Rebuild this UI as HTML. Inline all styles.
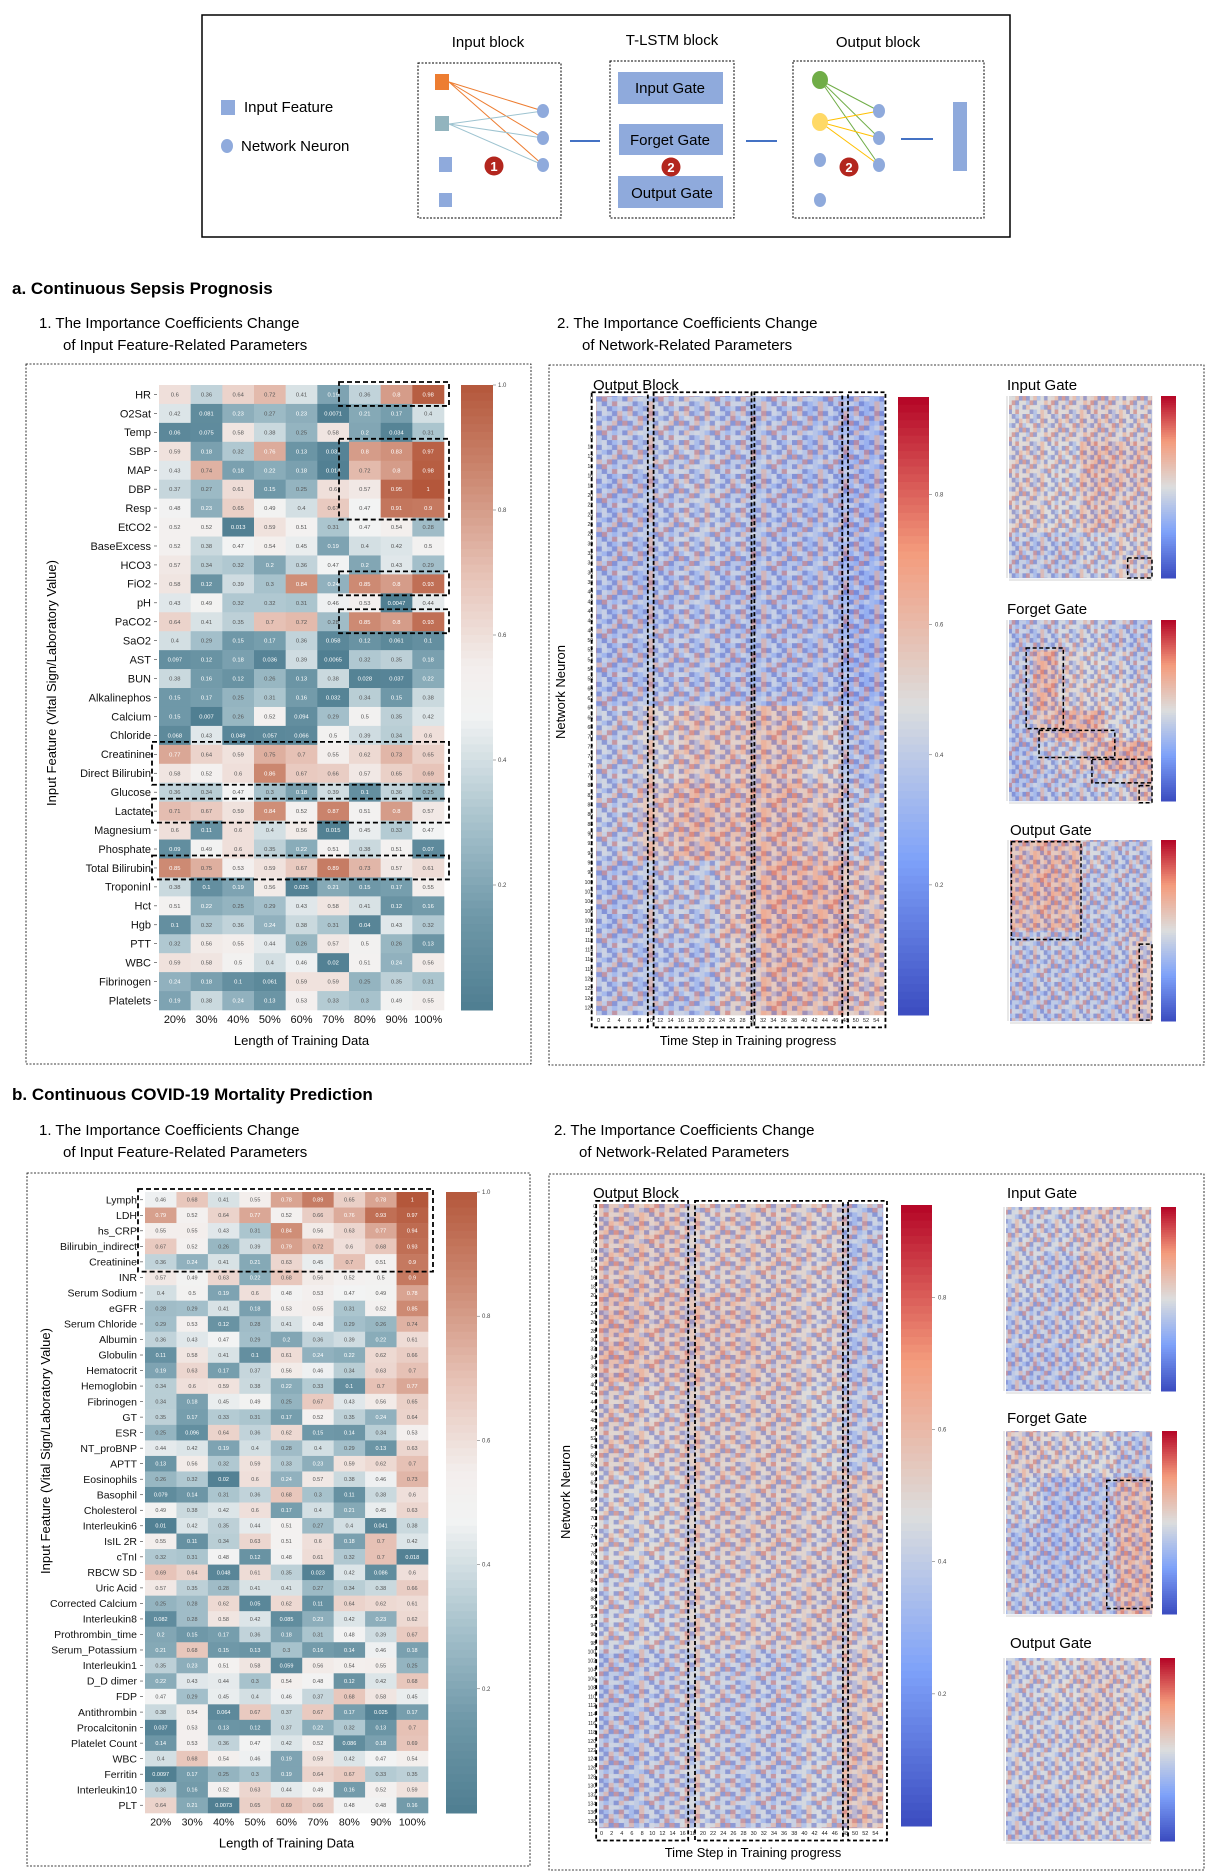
<!DOCTYPE html>
<html><head><meta charset="utf-8"><style>
html,body{margin:0;padding:0;background:#fff;}
svg{display:block;font-family:"Liberation Sans",sans-serif;}
</style></head><body>
<svg id="fig" width="1212" height="1874" viewBox="0 0 1212 1874" xmlns="http://www.w3.org/2000/svg">
<defs id="defs"></defs>
<g>
<rect x="202" y="15" width="808" height="222" fill="#fff" stroke="#000" stroke-width="1.5"/>
<rect x="221" y="100" width="14" height="15" fill="#8faadc"/>
<text x="244" y="112" font-size="15">Input Feature</text>
<ellipse cx="227" cy="146" rx="6" ry="7" fill="#8faadc"/>
<text x="241" y="151" font-size="15">Network Neuron</text>
<text x="488" y="47" font-size="15" text-anchor="middle">Input block</text>
<rect x="418" y="63" width="143" height="155" fill="none" stroke="#000" stroke-dasharray="2,1.5" stroke-width="1"/>
<g stroke-width="1">
<line x1="449" y1="82" x2="543" y2="111" stroke="#ed7d31"/><line x1="449" y1="82" x2="543" y2="138" stroke="#ed7d31"/><line x1="449" y1="82" x2="543" y2="165" stroke="#ed7d31"/>
<line x1="449" y1="124" x2="543" y2="111" stroke="#9dc3d0"/><line x1="449" y1="124" x2="543" y2="138" stroke="#9dc3d0"/><line x1="449" y1="124" x2="543" y2="165" stroke="#9dc3d0"/>
</g>
<rect x="435" y="74" width="14" height="16" fill="#ed7d31"/>
<rect x="435" y="116" width="14" height="15" fill="#92b4be"/>
<rect x="439" y="157" width="13" height="15" fill="#8faadc"/>
<rect x="439" y="193" width="13" height="14" fill="#8faadc"/>
<ellipse cx="543" cy="111" rx="6" ry="7" fill="#8faadc"/><ellipse cx="543" cy="138" rx="6" ry="7" fill="#8faadc"/><ellipse cx="543" cy="165" rx="6" ry="7" fill="#8faadc"/>
<circle cx="494" cy="166" r="9.5" fill="#b3261e"/><text x="494" y="171" font-size="13" fill="#fff" text-anchor="middle" font-weight="bold">1</text>
<line x1="570" y1="141" x2="600" y2="141" stroke="#4472c4" stroke-width="2"/>
<text x="672" y="45" font-size="15" text-anchor="middle">T-LSTM block</text>
<rect x="610" y="61" width="124" height="157" fill="none" stroke="#000" stroke-dasharray="2,1.5" stroke-width="1"/>
<rect x="618" y="72" width="105" height="32" fill="#8faadc"/><text x="670" y="93" font-size="15" text-anchor="middle">Input Gate</text>
<rect x="619" y="124" width="104" height="31" fill="#8faadc"/><text x="670" y="145" font-size="15" text-anchor="middle">Forget Gate</text>
<rect x="618" y="176" width="105" height="32" fill="#8faadc"/><text x="672" y="198" font-size="15" text-anchor="middle">Output Gate</text>
<circle cx="671" cy="167" r="9.5" fill="#b3261e"/><text x="671" y="172" font-size="13" fill="#fff" text-anchor="middle" font-weight="bold">2</text>
<line x1="746" y1="141" x2="777" y2="141" stroke="#4472c4" stroke-width="2"/>
<text x="878" y="47" font-size="15" text-anchor="middle">Output block</text>
<rect x="793" y="61" width="191" height="157" fill="none" stroke="#000" stroke-dasharray="2,1.5" stroke-width="1"/>
<g stroke-width="1">
<line x1="820" y1="80" x2="879" y2="111" stroke="#70ad47"/><line x1="820" y1="80" x2="879" y2="138" stroke="#70ad47"/><line x1="820" y1="80" x2="879" y2="165" stroke="#70ad47"/>
<line x1="820" y1="122" x2="879" y2="111" stroke="#ffc000"/><line x1="820" y1="122" x2="879" y2="138" stroke="#ffc000"/><line x1="820" y1="122" x2="879" y2="165" stroke="#ffc000"/>
</g>
<ellipse cx="820" cy="80" rx="8" ry="9" fill="#70ad47"/>
<ellipse cx="820" cy="122" rx="8" ry="9" fill="#ffd966"/>
<ellipse cx="820" cy="160" rx="6" ry="7" fill="#8faadc"/>
<ellipse cx="820" cy="200" rx="6" ry="7" fill="#8faadc"/>
<ellipse cx="879" cy="111" rx="6" ry="7" fill="#8faadc"/><ellipse cx="879" cy="138" rx="6" ry="7" fill="#8faadc"/><ellipse cx="879" cy="165" rx="6" ry="7" fill="#8faadc"/>
<circle cx="849" cy="167" r="9.5" fill="#b3261e"/><text x="849" y="172" font-size="13" fill="#fff" text-anchor="middle" font-weight="bold">2</text>
<line x1="901" y1="139" x2="933" y2="139" stroke="#4472c4" stroke-width="2"/>
<rect x="953" y="102" width="14" height="69" fill="#8faadc"/>
</g>
<text x="12" y="294" font-size="17" font-weight="bold">a. Continuous Sepsis Prognosis</text>
<text x="39" y="328" font-size="15">1. The Importance Coefficients Change</text>
<text x="63" y="350" font-size="15">of Input Feature-Related Parameters</text>
<text x="557" y="328" font-size="15">2. The Importance Coefficients Change</text>
<text x="582" y="350" font-size="15">of Network-Related Parameters</text>
<text x="12" y="1100" font-size="17" font-weight="bold">b. Continuous COVID-19 Mortality Prediction</text>
<text x="39" y="1135" font-size="15">1. The Importance Coefficients Change</text>
<text x="63" y="1157" font-size="15">of Input Feature-Related Parameters</text>
<text x="554" y="1135" font-size="15">2. The Importance Coefficients Change</text>
<text x="579" y="1157" font-size="15">of Network-Related Parameters</text>
<rect x="26" y="364" width="505" height="700" fill="none" stroke="#000" stroke-dasharray="2,1.5" stroke-width="0.8"/>
<rect x="549" y="365" width="655" height="700" fill="none" stroke="#000" stroke-dasharray="2,1.5" stroke-width="0.8"/>
<rect x="27" y="1173" width="503" height="693" fill="none" stroke="#000" stroke-dasharray="2,1.5" stroke-width="0.8"/>
<rect x="549" y="1174" width="655" height="696" fill="none" stroke="#000" stroke-dasharray="2,1.5" stroke-width="0.8"/>
<g id="charts"></g>
</svg>
<script>
const pctLabels = ["20%","30%","40%","50%","60%","70%","80%","90%","100%"];
const sepsisFeatures = ["HR","O2Sat","Temp","SBP","MAP","DBP","Resp","EtCO2","BaseExcess","HCO3","FiO2","pH","PaCO2","SaO2","AST","BUN","Alkalinephos","Calcium","Chloride","Creatinine","Direct Bilirubin","Glucose","Lactate","Magnesium","Phosphate","Total Bilirubin","TroponinI","Hct","Hgb","PTT","WBC","Fibrinogen","Platelets"];
const sepsisValues = [
[0.6,0.36,0.64,0.72,0.41,0.19,0.36,0.8,0.98],
[0.42,0.081,0.23,0.27,0.23,0.0071,0.21,0.17,0.4],
[0.06,0.075,0.58,0.38,0.25,0.58,0.2,0.034,0.31],
[0.59,0.18,0.32,0.76,0.13,0.031,0.8,0.83,0.97],
[0.43,0.74,0.18,0.22,0.18,0.014,0.72,0.8,0.98],
[0.37,0.27,0.61,0.15,0.25,0.6,0.57,0.95,1],
[0.48,0.23,0.65,0.49,0.4,0.67,0.47,0.91,0.9],
[0.52,0.52,0.013,0.59,0.51,0.31,0.47,0.54,0.28],
[0.52,0.38,0.47,0.54,0.45,0.19,0.4,0.42,0.5],
[0.57,0.34,0.32,0.2,0.36,0.47,0.2,0.43,0.29],
[0.58,0.12,0.39,0.3,0.84,0.24,0.85,0.8,0.93],
[0.43,0.49,0.32,0.32,0.31,0.46,0.53,0.0047,0.44],
[0.64,0.41,0.35,0.7,0.72,0.28,0.85,0.8,0.93],
[0.4,0.29,0.15,0.17,0.36,0.058,0.12,0.061,0.1],
[0.097,0.12,0.18,0.036,0.39,0.0065,0.32,0.35,0.18],
[0.38,0.16,0.12,0.26,0.13,0.38,0.028,0.037,0.22],
[0.15,0.17,0.25,0.31,0.16,0.032,0.34,0.15,0.38],
[0.15,0.007,0.26,0.52,0.094,0.29,0.5,0.35,0.42],
[0.068,0.43,0.049,0.057,0.066,0.5,0.39,0.34,0.6],
[0.77,0.64,0.59,0.75,0.7,0.55,0.62,0.73,0.65],
[0.58,0.52,0.6,0.86,0.67,0.66,0.57,0.65,0.69],
[0.36,0.34,0.47,0.3,0.18,0.39,0.1,0.36,0.25],
[0.71,0.67,0.59,0.84,0.52,0.87,0.51,0.8,0.57],
[0.6,0.11,0.6,0.4,0.56,0.015,0.45,0.33,0.47],
[0.09,0.49,0.6,0.35,0.22,0.51,0.38,0.51,0.07],
[0.85,0.75,0.53,0.59,0.67,0.89,0.73,0.57,0.61],
[0.38,0.1,0.19,0.56,0.025,0.21,0.15,0.17,0.55],
[0.51,0.22,0.25,0.29,0.43,0.58,0.41,0.12,0.16],
[0.1,0.32,0.36,0.24,0.38,0.31,0.04,0.43,0.32],
[0.32,0.56,0.55,0.44,0.26,0.57,0.5,0.26,0.13],
[0.59,0.58,0.5,0.4,0.46,0.02,0.51,0.24,0.56],
[0.24,0.18,0.1,0.061,0.59,0.59,0.25,0.35,0.31],
[0.19,0.38,0.24,0.13,0.53,0.33,0.3,0.49,0.55]];
const sepsisHighlights = [[0,0,6],[3,6,6],[10,10,6],[12,12,6],[19,20,0],[22,22,0],[25,25,0]];
const covidFeatures = ["Lymph","LDH","hs_CRP","Bilirubin_indirect","Creatinine","INR","Serum Sodium","eGFR","Serum Chloride","Albumin","Globulin","Hematocrit","Hemoglobin","Fibrinogen","GT","ESR","NT_proBNP","APTT","Eosinophils","Basophil","Cholesterol","Interleukin6","IsIL 2R","cTnI","RBCW SD","Uric Acid","Corrected Calcium","Interleukin8","Prothrombin_time","Serum_Potassium","Interleukin1","D_D dimer","FDP","Antithrombin","Procalcitonin","Platelet Count","WBC","Ferritin","Interleukin10","PLT"];
const covidValues = [
[0.46,0.68,0.41,0.55,0.78,0.89,0.65,0.78,1],
[0.79,0.52,0.64,0.77,0.52,0.66,0.76,0.93,0.97],
[0.55,0.55,0.43,0.31,0.84,0.56,0.63,0.77,0.94],
[0.67,0.52,0.26,0.39,0.79,0.72,0.6,0.68,0.93],
[0.36,0.24,0.41,0.21,0.63,0.45,0.7,0.51,0.9],
[0.57,0.49,0.63,0.22,0.68,0.56,0.52,0.5,0.9],
[0.4,0.5,0.19,0.6,0.48,0.53,0.47,0.49,0.78],
[0.28,0.29,0.41,0.18,0.53,0.55,0.31,0.52,0.85],
[0.29,0.53,0.12,0.28,0.41,0.48,0.29,0.26,0.74],
[0.36,0.43,0.47,0.29,0.2,0.36,0.39,0.22,0.61],
[0.11,0.58,0.41,0.1,0.61,0.24,0.22,0.62,0.66],
[0.19,0.63,0.17,0.37,0.56,0.46,0.34,0.63,0.7],
[0.34,0.6,0.59,0.38,0.22,0.33,0.1,0.7,0.77],
[0.34,0.18,0.45,0.49,0.25,0.67,0.43,0.56,0.65],
[0.35,0.17,0.33,0.31,0.17,0.52,0.35,0.24,0.64],
[0.25,0.096,0.64,0.36,0.62,0.15,0.14,0.34,0.53],
[0.44,0.42,0.19,0.4,0.28,0.4,0.29,0.13,0.63],
[0.13,0.56,0.32,0.59,0.33,0.23,0.59,0.62,0.7],
[0.26,0.32,0.02,0.6,0.24,0.57,0.38,0.46,0.73],
[0.079,0.14,0.31,0.36,0.68,0.3,0.11,0.38,0.6],
[0.49,0.38,0.42,0.6,0.17,0.4,0.21,0.45,0.63],
[0.01,0.42,0.35,0.44,0.51,0.27,0.4,0.041,0.38],
[0.55,0.11,0.34,0.63,0.51,0.6,0.18,0.7,0.42],
[0.32,0.31,0.48,0.12,0.48,0.61,0.32,0.7,0.018],
[0.69,0.64,0.048,0.61,0.35,0.023,0.42,0.086,0.6],
[0.57,0.35,0.28,0.41,0.41,0.27,0.34,0.38,0.66],
[0.25,0.28,0.62,0.05,0.62,0.11,0.64,0.62,0.61],
[0.082,0.28,0.58,0.42,0.085,0.23,0.42,0.23,0.62],
[0.2,0.15,0.17,0.36,0.18,0.31,0.48,0.39,0.67],
[0.21,0.68,0.15,0.13,0.3,0.16,0.14,0.46,0.18],
[0.35,0.23,0.51,0.58,0.059,0.56,0.54,0.55,0.25],
[0.22,0.43,0.44,0.3,0.54,0.48,0.12,0.42,0.68],
[0.47,0.29,0.45,0.4,0.46,0.37,0.68,0.58,0.45],
[0.38,0.54,0.064,0.67,0.37,0.67,0.17,0.025,0.17],
[0.037,0.53,0.13,0.12,0.37,0.22,0.32,0.13,0.7],
[0.14,0.53,0.36,0.47,0.42,0.52,0.086,0.18,0.69],
[0.4,0.68,0.54,0.46,0.19,0.59,0.42,0.47,0.54],
[0.0097,0.17,0.25,0.3,0.19,0.64,0.67,0.33,0.35],
[0.36,0.16,0.52,0.63,0.44,0.49,0.16,0.52,0.59],
[0.64,0.21,0.0073,0.65,0.69,0.66,0.48,0.48,0.16]];
const covidHighlights = [[0,4,0]];
const featureTicks = [1.0,0.8,0.6,0.4,0.2];
const netTicks = [0.8,0.6,0.4,0.2];
const sepsisOutputBlock = [
[0.40,0.42,0.42,0.40,0.40,0.38,0.35],
[0.38,0.40,0.42,0.40,0.38,0.38,0.35],
[0.38,0.38,0.40,0.38,0.38,0.38,0.33],
[0.38,0.40,0.40,0.38,0.38,0.38,0.33],
[0.42,0.50,0.55,0.55,0.58,0.50,0.38],
[0.42,0.55,0.60,0.58,0.60,0.55,0.42],
[0.38,0.42,0.42,0.55,0.62,0.62,0.55],
[0.40,0.40,0.40,0.52,0.60,0.58,0.55]];
const sepsisInputGate = [[0.48,0.50,0.52,0.50],[0.50,0.48,0.58,0.55],[0.50,0.48,0.55,0.52],[0.42,0.42,0.45,0.50]];
const sepsisForgetGate = [
[0.40,0.42,0.45,0.45,0.42,0.40],
[0.42,0.62,0.50,0.48,0.45,0.42],
[0.42,0.62,0.50,0.50,0.48,0.45],
[0.40,0.55,0.62,0.62,0.48,0.45],
[0.38,0.42,0.45,0.55,0.62,0.62],
[0.38,0.40,0.42,0.42,0.45,0.55]];
const sepsisOutputGate = [
[0.58,0.60,0.58,0.45,0.42,0.42],
[0.60,0.62,0.60,0.42,0.42,0.42],
[0.58,0.60,0.58,0.42,0.42,0.40],
[0.42,0.42,0.42,0.40,0.42,0.52],
[0.40,0.42,0.40,0.42,0.40,0.55],
[0.40,0.40,0.42,0.42,0.40,0.55]];
const covidOutputBlock = [
[0.55,0.55,0.50,0.52,0.52,0.50,0.40],
[0.58,0.55,0.55,0.55,0.52,0.50,0.40],
[0.52,0.50,0.52,0.52,0.52,0.48,0.42],
[0.48,0.48,0.50,0.52,0.52,0.50,0.52],
[0.45,0.45,0.50,0.50,0.50,0.52,0.50],
[0.40,0.42,0.45,0.42,0.42,0.45,0.52],
[0.40,0.42,0.45,0.42,0.42,0.45,0.55]];
const covidInputGate = [[0.45,0.45,0.52,0.50],[0.45,0.42,0.55,0.50],[0.42,0.42,0.50,0.48],[0.40,0.40,0.45,0.45]];
const covidForgetGate = [[0.52,0.50,0.48,0.42],[0.45,0.38,0.40,0.58],[0.40,0.38,0.42,0.60],[0.42,0.40,0.42,0.60]];
const covidOutputGate = [[0.45,0.48,0.52,0.50],[0.45,0.45,0.52,0.48],[0.45,0.45,0.50,0.48],[0.42,0.42,0.45,0.45]];

const NS = "http://www.w3.org/2000/svg";
const root = document.getElementById('charts');
const defs = document.getElementById('defs');
function mk(tag, attrs, parent){const e=document.createElementNS(NS,tag);for(const k in attrs)e.setAttribute(k,attrs[k]);(parent||root).appendChild(e);return e;}
function hex2rgb(h){return [parseInt(h.slice(1,3),16),parseInt(h.slice(3,5),16),parseInt(h.slice(5,7),16)];}
function makeMap(stops){const s=stops.map(([t,c])=>[t,hex2rgb(c)]);return function(v){v=Math.max(0,Math.min(1,v));for(let i=1;i<s.length;i++){if(v<=s[i][0]){const a=s[i-1],b=s[i];const f=(v-a[0])/(b[0]-a[0]);const c=a[1].map((x,j)=>Math.round(x+(b[1][j]-x)*f));return `rgb(${c[0]},${c[1]},${c[2]})`;}}const c=s[s.length-1][1];return `rgb(${c[0]},${c[1]},${c[2]})`;};}
const tealRed = makeMap([[0,"#4f7e91"],[0.15,"#6f98a8"],[0.3,"#a7c2cc"],[0.47,"#f2f3f3"],[0.55,"#f3eeec"],[0.7,"#e6c1b5"],[0.85,"#cd8a73"],[1,"#b4573b"]]);
const coolwarm = makeMap([[0,"#3b4cc0"],[0.25,"#7ea1f9"],[0.5,"#dcdddd"],[0.75,"#f49b7c"],[1,"#b40426"]]);
function fmt(v){return String(v);}

function featureHeatmap(o){
  const g=mk('g',{});
  
  
  const R=o.rows.length, C=o.cols.length;
  const cw=(o.x1-o.x0)/C, ch=(o.y1-o.y0)/R;
  const xS=c=>o.x0+c*cw, yS=r=>o.y0+r*ch;
  o.values.forEach((row,r)=>row.forEach((v,c)=>{
    const rc=mk('rect',{x:xS(c),y:yS(r),width:cw+0.3,height:ch+0.3,fill:tealRed(v)},g);
    
    
    const dark = v<0.25||v>0.75;
    const t=mk('text',{x:xS(c)+cw/2,y:yS(r)+ch/2+o.vfs*0.35,'font-size':o.vfs,'text-anchor':'middle',fill:dark?'#fff':'#555'},g);
    t.textContent=fmt(v);
  }));
  o.rows.forEach((n,r)=>{
    const t=mk('text',{x:o.x0-8,y:yS(r)+ch/2+o.lfs*0.35,'font-size':o.lfs,'text-anchor':'end',fill:'#111'},g);
    t.textContent=n;
    
    
    mk('line',{x1:o.x0-5,x2:o.x0-2,y1:yS(r)+ch/2,y2:yS(r)+ch/2,stroke:'#333','stroke-width':0.6},g);
  });
  o.cols.forEach((n,c)=>{
    const t=mk('text',{x:xS(c)+cw/2,y:o.y1+o.lfs+2,'font-size':o.lfs,'text-anchor':'middle',fill:'#111'},g);
    t.textContent=n;
    
    
  });
  const xt=mk('text',{x:(o.x0+o.x1)/2,y:o.y1+o.lfs+24,'font-size':13,'text-anchor':'middle'},g);
  xt.textContent='Length of Training Data';
  
  
  const yt=mk('text',{x:0,y:0,'font-size':13,'text-anchor':'middle',transform:`translate(${o.ytx},${o.yty}) rotate(-90)`},g);
  yt.textContent='Input Feature (Vital Sign/Laboratory Value)';
  
  
  const cb=mk('g',{},g);
  
  
  const N=80;
  for(let i=0;i<N;i++){const v=1-i/N;mk('rect',{x:o.cbx,y:o.y0+i*(o.y1-o.y0)/N,width:o.cbw,height:(o.y1-o.y0)/N+0.5,fill:tealRed(v-0.5/N)},cb);}
  const cy=v=>o.y0+(1-v)*(o.y1-o.y0);
  featureTicks.forEach(v=>{mk('line',{x1:o.cbx+o.cbw,x2:o.cbx+o.cbw+3,y1:cy(v),y2:cy(v),stroke:'#555','stroke-width':0.5},cb);const t=mk('text',{x:o.cbx+o.cbw+5,y:cy(v)+2,'font-size':6,fill:'#444'},cb);t.textContent=v.toFixed(1);});
  o.highlights.forEach(([r0,r1,c0])=>{
    const bx=c0===0?o.x0-7:xS(c0)-10;
    const b=mk('rect',{x:bx,y:yS(r0)-3,width:o.x1+5-bx,height:(r1-r0+1)*ch+5,fill:'none',stroke:'#000','stroke-width':1.8,'stroke-dasharray':'5,3'},g);
    
    
  });
}

// decorative texture tile (cell-level speckle); b=blue, l=light blue, r=red, o=orange, w=pale, .=none
const tileMap=[
"br.lbo.wbl.",
".obl.rbw.bo",
"lw.rbo.lb.r",
"rb.ol.bw.ob",
".lrb.wo.rb.",
"bo.w.lbr.l.",
"w.bl.o.b.rw"];
let patId=0;
const texCol={b:['#3b4cc0',0.55],l:['#7e9ff5',0.5],r:['#c43b3a',0.5],o:['#f2a385',0.6],w:['#e0e0e0',0.55]};
function makePattern(cw,ch){
  const id='tex'+(patId++);
  const p=mk('pattern',{id:id,patternUnits:'userSpaceOnUse',width:cw*11,height:ch*7},defs);
  tileMap.forEach((row,r)=>[...row].forEach((k,c)=>{
    if(k==='.')return;
    mk('rect',{x:c*cw,y:r*ch,width:cw+0.2,height:ch+0.2,fill:texCol[k][0],'fill-opacity':texCol[k][1]},p);
  }));
  return id;
}

function netHeatmap(o){
  const g=mk('g',{});
  
  
  const BR=o.bands.length, BC=o.bands[0].length;
  const bw=(o.x1-o.x0)/BC, bh=(o.y1-o.y0)/BR;
  const norm=v=>v/o.vmax;
  o.bands.forEach((row,r)=>row.forEach((v,c)=>{
    const rc=mk('rect',{x:o.x0+c*bw,y:o.y0+r*bh,width:bw+0.3,height:bh+0.3,fill:coolwarm(norm(v))},g);
    
    
  }));
  const cw=(o.x1-o.x0)/o.ncols, ch=(o.y1-o.y0)/o.nrows;
  const pid=makePattern(cw,ch);
  mk('rect',{x:o.x0,y:o.y0,width:o.x1-o.x0,height:o.y1-o.y0,fill:`url(#${pid})`},g);
  // band tint re-applied lightly so regional trend stays visible
  o.bands.forEach((row,r)=>row.forEach((v,c)=>{
    mk('rect',{x:o.x0+c*bw,y:o.y0+r*bh,width:bw+0.3,height:bh+0.3,fill:coolwarm(norm(v)),'fill-opacity':0.25},g);
  }));
  const cb=mk('g',{},g);
  
  
  const N=80;
  for(let i=0;i<N;i++){const v=1-i/N;mk('rect',{x:o.cbx,y:o.cby0+i*(o.cby1-o.cby0)/N,width:o.cbw,height:(o.cby1-o.cby0)/N+0.5,fill:coolwarm(v-0.5/N)},cb);}
  if(o.ticks){
    const cy=v=>o.cby0+(1-v/o.vmax)*(o.cby1-o.cby0);
    netTicks.forEach(v=>{mk('line',{x1:o.cbx+o.cbw,x2:o.cbx+o.cbw+3,y1:cy(v),y2:cy(v),stroke:'#555','stroke-width':0.5},cb);const t=mk('text',{x:o.cbx+o.cbw+6,y:cy(v)+2,'font-size':6,fill:'#444'},cb);t.textContent=v.toFixed(1);});
    for(let r=0;r<o.nrows;r+=2){const t=mk('text',{x:o.x0-3,y:o.y0+(r+0.5)*ch+1.8,'font-size':5,'text-anchor':'end',fill:'#222'},g);t.textContent=r;}
    for(let c=0;c<o.ncols;c+=2){const t=mk('text',{x:o.x0+(c+0.5)*cw,y:o.y1+7,'font-size':5.5,'text-anchor':'middle',fill:'#222'},g);t.textContent=c;}
  } else {
    mk('rect',{x:o.x0-3,y:o.y0,width:2,height:o.y1-o.y0,fill:'#e8e8e8'},g);
    mk('rect',{x:o.x0,y:o.y1+1,width:o.x1-o.x0,height:2,fill:'#e8e8e8'},g);
  }
  (o.boxes||[]).forEach(([x0,y0,x1,y1])=>{
    const b=mk('rect',{x:o.x0+x0*(o.x1-o.x0),y:o.y0+y0*(o.y1-o.y0),width:(x1-x0)*(o.x1-o.x0),height:(y1-y0)*(o.y1-o.y0),fill:'none',stroke:'#000','stroke-width':o.ticks?1.8:1.5,'stroke-dasharray':'4,2.5'},g);
    
    
  });
  if(o.title){const t=mk('text',{x:o.tx,y:o.ty,'font-size':15},g);t.textContent=o.title;}
}

featureHeatmap({name:'sepsis-feature-heatmap',rows:sepsisFeatures,cols:pctLabels,values:sepsisValues,highlights:sepsisHighlights,
  x0:159,x1:444,y0:385,y1:1010,vfs:5.8,lfs:11,cbx:461,cbw:32,ytx:56,yty:683});
featureHeatmap({name:'covid-feature-heatmap',rows:covidFeatures,cols:pctLabels,values:covidValues,highlights:covidHighlights,
  x0:145,x1:428,y0:1192,y1:1813,vfs:5.5,lfs:10.5,cbx:446,cbw:31,ytx:50,yty:1451});

netHeatmap({name:'sepsis-output-block-heatmap',bands:sepsisOutputBlock,x0:596,x1:884,y0:396,y1:1015,nrows:128,ncols:56,vmax:0.95,
  cbx:898,cbw:31,cby0:397,cby1:1015,ticks:true,title:'Output Block',tx:593,ty:390,
  boxes:[[-0.015,-0.006,0.18,1.02],[0.2,-0.006,0.54,1.02],[0.55,-0.006,0.855,1.02],[0.875,-0.006,1.005,1.02]]});
netHeatmap({name:'sepsis-input-gate-heatmap',bands:sepsisInputGate,x0:1009,x1:1152,y0:396,y1:578,nrows:40,ncols:40,vmax:0.95,
  cbx:1161,cbw:15,cby0:396,cby1:578,ticks:false,title:'Input Gate',tx:1007,ty:390,boxes:[[0.83,0.89,1.0,1.0]]});
netHeatmap({name:'sepsis-forget-gate-heatmap',bands:sepsisForgetGate,x0:1009,x1:1152,y0:620,y1:801,nrows:40,ncols:40,vmax:0.95,
  cbx:1161,cbw:15,cby0:620,cby1:801,ticks:false,title:'Forget Gate',tx:1007,ty:614,
  boxes:[[0.12,0.155,0.38,0.6],[0.21,0.61,0.74,0.76],[0.58,0.77,1.0,0.9],[0.91,0.915,1.0,1.01]]});
netHeatmap({name:'sepsis-output-gate-heatmap',bands:sepsisOutputGate,x0:1010,x1:1152,y0:840,y1:1021,nrows:40,ncols:40,vmax:0.95,
  cbx:1161,cbw:15,cby0:840,cby1:1021,ticks:false,title:'Output Gate',tx:1010,ty:835,
  boxes:[[0.01,0.01,0.5,0.55],[0.91,0.575,1.0,0.995]]});
netHeatmap({name:'covid-output-block-heatmap',bands:covidOutputBlock,x0:599,x1:883,y0:1204,y1:1828,nrows:140,ncols:56,vmax:0.94,
  cbx:901,cbw:31,cby0:1205,cby1:1826,ticks:true,title:'Output Block',tx:593,ty:1198,
  boxes:[[-0.01,-0.005,0.314,1.02],[0.338,-0.005,0.859,1.02],[0.877,-0.005,1.014,1.02]]});
netHeatmap({name:'covid-input-gate-heatmap',bands:covidInputGate,x0:1006,x1:1151,y0:1207,y1:1391,nrows:40,ncols:40,vmax:0.95,
  cbx:1161,cbw:15,cby0:1207,cby1:1391,ticks:false,title:'Input Gate',tx:1007,ty:1198});
netHeatmap({name:'covid-forget-gate-heatmap',bands:covidForgetGate,x0:1006,x1:1152,y0:1431,y1:1614,nrows:40,ncols:40,vmax:0.95,
  cbx:1162,cbw:15,cby0:1431,cby1:1614,ticks:false,title:'Forget Gate',tx:1007,ty:1423,
  boxes:[[0.69,0.27,1.0,0.97]]});
netHeatmap({name:'covid-output-gate-heatmap',bands:covidOutputGate,x0:1006,x1:1151,y0:1658,y1:1841,nrows:40,ncols:40,vmax:0.95,
  cbx:1160,cbw:15,cby0:1658,cby1:1841,ticks:false,title:'Output Gate',tx:1010,ty:1648});

[[565,692,'a2-y-axis-title'],[570,1492,'b2-y-axis-title']].forEach(([x,y,n])=>{
  const t=mk('text',{x:0,y:0,'font-size':13,'text-anchor':'middle',transform:`translate(${x},${y}) rotate(-90)`});
  t.textContent='Network Neuron';
  
  
});
[[748,1045,'a2-x-axis-title'],[753,1857,'b2-x-axis-title']].forEach(([x,y,n])=>{
  const t=mk('text',{x:x,y:y,'font-size':13,'text-anchor':'middle'});
  t.textContent='Time Step in Training progress';
  
  
});
</script>
</body></html>
